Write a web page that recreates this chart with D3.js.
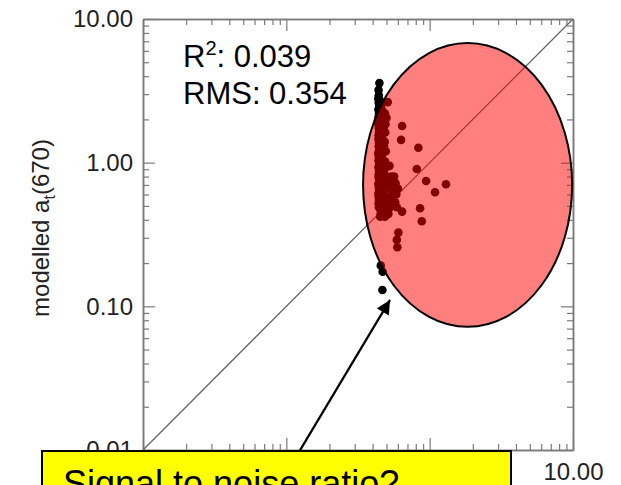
<!DOCTYPE html>
<html>
<head>
<meta charset="utf-8">
<script src="https://cdn.jsdelivr.net/npm/d3@7"></script>
<style>
  html, body { margin: 0; padding: 0; background: #fff; }
  svg { display: block; font-family: "Liberation Sans", Arial, sans-serif; }
</style>
</head>
<body>
<svg id="chart" width="621" height="485"></svg>
<script>
// Measured vs modelled a_t(670), both axes logarithmic
const measured = [
  0.446, 0.440, 0.442, 0.510, 0.500,
  0.438, 0.441, 0.444, 0.439, 0.443, 0.440, 0.445, 0.438, 0.442, 0.444, 0.440, 0.439,
  0.443, 0.441, 0.445, 0.438, 0.442, 0.440, 0.444, 0.439, 0.443, 0.441, 0.440, 0.445,
  0.438, 0.442, 0.444, 0.439, 0.441, 0.443, 0.440, 0.442,
  0.452, 0.455, 0.453, 0.456, 0.454, 0.452, 0.457, 0.455, 0.453, 0.456, 0.454, 0.452,
  0.455, 0.457, 0.453, 0.456, 0.454, 0.455, 0.452,
  0.462, 0.468, 0.465, 0.470, 0.463, 0.467, 0.466, 0.469, 0.464, 0.468, 0.462, 0.470,
  0.465, 0.467, 0.463, 0.469, 0.466, 0.464, 0.468, 0.462, 0.467, 0.465, 0.470,
  0.478, 0.480, 0.476, 0.479, 0.477, 0.481, 0.478, 0.480, 0.476, 0.479,
  0.488, 0.492, 0.490, 0.486, 0.494, 0.489, 0.491, 0.487, 0.493, 0.490, 0.488, 0.492,
  0.489, 0.491, 0.487,
  0.525, 0.540, 0.520, 0.555, 0.530, 0.548, 0.522, 0.535, 0.545, 0.515,
  0.578, 0.585, 0.575, 0.600, 0.565, 0.590,
  0.642, 0.632, 0.834, 0.813, 0.944, 1.300, 1.090, 0.857, 0.881, 0.642,
  0.605, 0.590, 0.595, 0.456, 0.470, 0.468
];
const modelled = [
  3.58, 3.20, 2.95, 2.64, 2.05,
  2.80, 2.62, 2.48, 2.34, 2.20, 2.08, 1.96, 1.85, 1.74, 1.64, 1.55, 1.46,
  1.38, 1.30, 1.23, 1.16, 1.10, 1.04, 0.98, 0.93, 0.88, 0.83, 0.79, 0.75,
  0.71, 0.67, 0.64, 0.61, 0.58, 0.55, 0.52, 0.49,
  2.70, 2.40, 2.15, 1.90, 1.68, 1.50, 1.33, 1.19, 1.07, 0.96, 0.86, 0.77,
  0.69, 0.62, 0.56, 0.51, 0.47, 0.44, 0.42,
  2.55, 2.30, 2.10, 1.92, 1.75, 1.60, 1.47, 1.35, 1.24, 1.14, 1.05, 0.97,
  0.90, 0.84, 0.78, 0.72, 0.67, 0.62, 0.58, 0.54, 0.50, 0.46, 0.43,
  1.70, 1.30, 1.00, 0.86, 0.76, 0.68, 0.60, 0.53, 0.47, 0.43,
  2.20, 1.85, 1.62, 1.40, 1.20, 1.02, 0.92, 0.82, 0.74, 0.66, 0.60, 0.55,
  0.50, 0.45, 0.42,
  0.95, 0.80, 0.70, 0.63, 0.57, 0.52, 0.48, 0.76, 0.66, 0.44,
  0.72, 0.60, 0.53, 0.66, 0.80, 0.49,
  1.80, 1.44, 1.27, 0.904, 0.746, 0.707, 0.622, 0.482, 0.391, 0.456,
  0.326, 0.290, 0.258, 0.192, 0.174, 0.130
];

const axisMajor = [0.01, 0.1, 1, 10];
const axisDomain = [0.01, 10];
const yLabelMain = "modelled a";
const yLabelSub = "t";
const yLabelTail = "(670)";
const statR2 = "0.039";
const statRMS = "0.354";

// region of the highlighted cluster, in data units
const highlightX = [0.343, 9.86];
const highlightY = [0.072, 6.8];
// arrow from the caption to the cluster, in data units
const arrowFrom = [0.1227, 0.0097];
const arrowTo = [0.529, 0.1108];
const caption = "Signal to noise ratio?";

const margin = { top: 19, right: 48, bottom: 35, left: 143 };
const W = 621, H = 485;
const svg = d3.select("#chart");

const x = d3.scaleLog().domain(axisDomain).range([margin.left, W - margin.right]);
const y = d3.scaleLog().domain(axisDomain).range([H - margin.bottom, margin.top]);

const frameColor = "#7a7a7a";
const fmt = d3.format(".2f");
const minorX = x.ticks().filter(v => !axisMajor.some(m => Math.abs(m - v) < 1e-9));
const minorY = y.ticks().filter(v => !axisMajor.some(m => Math.abs(m - v) < 1e-9));

function styleAxis(g) {
  g.selectAll("path.domain").attr("stroke", frameColor).attr("stroke-width", 1.5);
  g.selectAll(".tick line").attr("stroke", frameColor).attr("stroke-width", 1.2);
  g.selectAll(".tick text").attr("fill", "#222").style("font-size", "24px")
    .style("font-family", '"Liberation Sans", Arial, sans-serif');
}

const axes = svg.append("g");
const bottomY = y.range()[0], topY = y.range()[1];
const leftX = x.range()[0], rightX = x.range()[1];

// minor ticks, all four sides pointing inward
axes.append("g").attr("transform", `translate(0,${bottomY})`)
  .call(d3.axisBottom(x).tickValues(minorX).tickSize(-6).tickSizeOuter(0).tickFormat(""))
  .call(styleAxis);
axes.append("g").attr("transform", `translate(0,${topY})`)
  .call(d3.axisTop(x).tickValues(minorX).tickSize(-6).tickSizeOuter(0).tickFormat(""))
  .call(styleAxis);
axes.append("g").attr("transform", `translate(${leftX},0)`)
  .call(d3.axisLeft(y).tickValues(minorY).tickSize(-6).tickSizeOuter(0).tickFormat(""))
  .call(styleAxis);
axes.append("g").attr("transform", `translate(${rightX},0)`)
  .call(d3.axisRight(y).tickValues(minorY).tickSize(-6).tickSizeOuter(0).tickFormat(""))
  .call(styleAxis);

// major ticks with labels on the bottom and left
axes.append("g").attr("transform", `translate(0,${bottomY})`)
  .call(d3.axisBottom(x).tickValues(axisMajor).tickSize(-12).tickSizeOuter(0).tickPadding(13).tickFormat(fmt))
  .call(styleAxis);
axes.append("g").attr("transform", `translate(${leftX},0)`)
  .call(d3.axisLeft(y).tickValues(axisMajor).tickSize(-12).tickSizeOuter(0).tickPadding(10).tickFormat(fmt))
  .call(styleAxis);
axes.append("g").attr("transform", `translate(0,${topY})`)
  .call(d3.axisTop(x).tickValues(axisMajor).tickSize(-12).tickSizeOuter(0).tickFormat(""))
  .call(styleAxis);
axes.append("g").attr("transform", `translate(${rightX},0)`)
  .call(d3.axisRight(y).tickValues(axisMajor).tickSize(-12).tickSizeOuter(0).tickFormat(""))
  .call(styleAxis);

// 1:1 line
svg.append("line")
  .attr("x1", x(axisDomain[0])).attr("y1", y(axisDomain[0]))
  .attr("x2", x(axisDomain[1])).attr("y2", y(axisDomain[1]))
  .attr("stroke", "#666").attr("stroke-width", 1.3);

// points
svg.append("g").selectAll("circle")
  .data(measured.map((m, i) => [m, modelled[i]]))
  .join("circle")
  .attr("cx", d => x(d[0]))
  .attr("cy", d => y(d[1]))
  .attr("r", 4.3)
  .attr("fill", "#000");

// y axis title
const yt = svg.append("text")
  .attr("transform", `translate(49,228) rotate(-90)`)
  .attr("text-anchor", "middle")
  .attr("fill", "#222")
  .style("font-size", "24px");
yt.append("tspan").text(yLabelMain);
yt.append("tspan").attr("dy", 6).style("font-size", "16px").text(yLabelSub);
yt.append("tspan").attr("dy", -6).text(yLabelTail);

// statistics
const stats = svg.append("g").attr("fill", "#000").style("font-size", "31px");
const r2 = stats.append("text").attr("x", 183).attr("y", 67);
r2.append("tspan").text("R");
r2.append("tspan").attr("dy", -12).style("font-size", "20px").text("2");
r2.append("tspan").attr("dy", 12).text(": " + statR2);
stats.append("text").attr("x", 183).attr("y", 104).text("RMS: " + statRMS);

// highlighted cluster
const ex0 = x(highlightX[0]), ex1 = x(highlightX[1]);
const ey0 = y(highlightY[1]), ey1 = y(highlightY[0]);
svg.append("ellipse")
  .attr("cx", (ex0 + ex1) / 2).attr("cy", (ey0 + ey1) / 2)
  .attr("rx", (ex1 - ex0) / 2).attr("ry", (ey1 - ey0) / 2)
  .attr("fill", "rgba(255,0,0,0.5)")
  .attr("stroke", "#000").attr("stroke-width", 2);

// arrow
svg.append("defs").append("marker")
  .attr("id", "head").attr("viewBox", "0 0 10 10")
  .attr("refX", 10).attr("refY", 5)
  .attr("markerWidth", 16).attr("markerHeight", 14)
  .attr("markerUnits", "userSpaceOnUse")
  .attr("orient", "auto")
  .append("path").attr("d", "M0,0 L10,5 L0,10 Z").attr("fill", "#000");
svg.append("line")
  .attr("x1", x(arrowFrom[0])).attr("y1", y(arrowFrom[1]))
  .attr("x2", x(arrowTo[0])).attr("y2", y(arrowTo[1]))
  .attr("stroke", "#000").attr("stroke-width", 2.2)
  .attr("marker-end", "url(#head)");

// caption box
svg.append("rect")
  .attr("x", 42).attr("y", 451).attr("width", 469).attr("height", 60)
  .attr("fill", "#ffff00").attr("stroke", "#000").attr("stroke-width", 2);
svg.append("text")
  .attr("x", 63).attr("y", 496)
  .attr("fill", "#000").style("font-size", "36px")
  .text(caption);
</script>
</body>
</html>
